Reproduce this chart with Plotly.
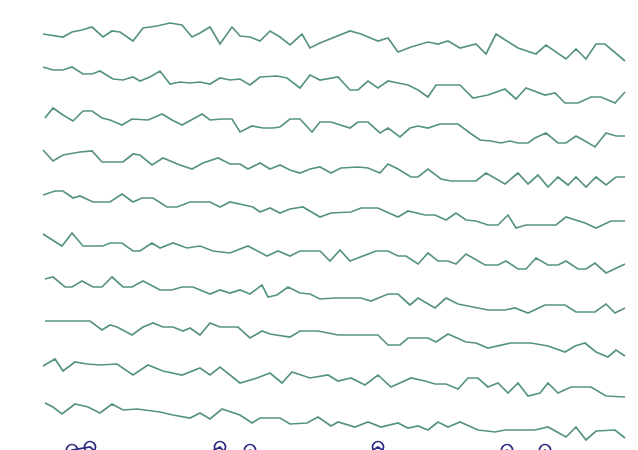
import plotly.graph_objects as go

# Ten stacked signal channels (time in samples, amplitude in arbitrary units)
t1 = [0, 2.0, 2.9, 3.9, 4.9, 6.0, 6.9, 7.7, 9.0, 10.0, 11.4, 12.7, 13.9, 14.9, 15.7, 16.7, 17.7, 18.9, 19.7, 20.7, 21.7, 22.7, 23.7, 24.7, 25.9, 26.7, 27.7, 29.2, 30.7, 31.8, 33.5, 34.5, 35.5, 36.8, 38.5, 39.5, 40.5, 41.7, 43.3, 44.3, 45.3, 47.5, 49.3, 50.3, 52.3, 53.3, 54.3, 55.3, 56.2, 58.2]
v1 = [0, -3, 2, 4, 7, -3, 3, 2, -7, 6, 8, 11, 9, -3, 1, 7, -10, 7, -2, -3, -7, 3, -3, -11, 0, -14, -9, -3, 3, 0, -7, -4, -18, -13, -8, -10, -7, -14, -10, -20, 0, -14, -20, -11, -25, -15, -25, -10, -10, -27]

t2 = [0, 1.0, 2.0, 2.9, 4.0, 4.9, 5.7, 7.0, 8.0, 9.0, 9.7, 10.7, 11.7, 12.7, 13.7, 14.7, 15.7, 16.7, 17.7, 18.7, 19.7, 20.7, 21.7, 23.4, 24.4, 25.7, 26.7, 27.7, 29.5, 30.7, 31.5, 32.5, 33.5, 34.5, 35.5, 36.5, 37.5, 38.5, 39.3, 41.7, 43.0, 44.5, 46.2, 47.3, 48.3, 50.2, 51.2, 52.2, 53.5, 54.8, 55.8, 57.2, 58.2]
v2 = [8, 5, 5, 8, 1, 1, 4, -4, -5, -2, -6, -2, 4, -9, -7, -8, -7, -9, -3, -5, -4, -10, -2, -1, -3, -13, 0, -5, -2, -15, -15, -6, -13, -6, -8, -10, -15, -22, -10, -10, -23, -20, -14, -24, -13, -20, -18, -28, -28, -22, -22, -28, -17]

t3 = [0.2, 1.0, 2.0, 3.0, 4.0, 4.9, 5.9, 6.7, 7.9, 8.9, 10.5, 11.9, 12.9, 13.9, 15.0, 15.9, 16.7, 17.9, 18.9, 19.7, 20.9, 22.0, 23.0, 23.7, 24.7, 25.7, 26.9, 27.7, 28.8, 30.7, 31.5, 32.5, 33.7, 34.5, 35.7, 36.7, 37.5, 38.5, 39.7, 41.5, 42.7, 43.7, 44.8, 45.8, 46.7, 47.5, 48.5, 49.2, 50.3, 51.5, 52.3, 53.3, 54.2, 55.2, 56.3, 57.3, 58.2]
v3 = [-2, 8, 1, -5, 5, 5, -2, -4, -9, -3, -4, 2, -4, -9, -3, 2, -4, -3, -3, -16, -10, -12, -12, -11, -3, -3, -16, -6, -6, -12, -6, -6, -17, -12, -21, -12, -10, -12, -8, -8, -17, -24, -25, -27, -25, -27, -27, -22, -17, -27, -27, -20, -25, -31, -17, -20, -20]

t4 = [0, 1.0, 2.0, 3.7, 4.9, 5.9, 8.0, 9.0, 9.7, 10.9, 12.0, 13.7, 14.9, 16.0, 17.5, 18.7, 19.7, 20.5, 21.7, 22.7, 23.7, 24.7, 25.7, 26.7, 27.7, 28.8, 29.8, 31.5, 32.5, 33.7, 34.5, 35.5, 36.8, 37.5, 38.5, 39.8, 40.8, 43.3, 44.3, 46.2, 47.5, 48.5, 49.5, 50.5, 51.5, 52.5, 53.3, 54.3, 55.3, 56.3, 57.3, 58.2]
v4 = [7, -4, 2, 5, 6, -5, -5, 3, 2, -8, -1, -8, -12, -6, -1, -7, -7, -12, -6, -12, -8, -13, -16, -12, -10, -16, -11, -10, -11, -16, -7, -12, -20, -20, -12, -22, -24, -24, -16, -27, -16, -27, -18, -30, -20, -28, -20, -30, -20, -28, -20, -20]

t5 = [0, 1.2, 2.0, 3.0, 3.7, 5.0, 6.7, 7.9, 9.0, 9.9, 11.0, 12.4, 13.4, 14.7, 16.7, 17.7, 18.7, 19.7, 21.0, 21.7, 22.7, 23.7, 24.7, 26.0, 27.7, 28.8, 30.8, 31.8, 33.5, 35.5, 36.5, 38.2, 39.2, 40.3, 41.3, 42.3, 43.3, 44.5, 45.5, 46.5, 47.3, 48.3, 51.3, 52.3, 54.2, 55.3, 56.8, 58.2]
v5 = [3, 7, 7, 0, 2, -4, -4, 4, -4, 0, 0, -9, -9, -4, -4, -9, -4, -6, -9, -14, -10, -15, -11, -9, -19, -15, -14, -10, -10, -19, -13, -17, -17, -22, -15, -22, -23, -27, -27, -17, -30, -27, -27, -19, -25, -30, -23, -23]

t6 = [0, 1.9, 2.9, 4.0, 6.0, 6.7, 7.9, 9.0, 9.7, 10.9, 11.7, 13.0, 14.4, 15.7, 17.0, 18.7, 20.5, 22.4, 23.5, 24.7, 25.7, 27.7, 28.7, 29.7, 30.7, 31.5, 33.3, 34.5, 35.5, 36.3, 37.5, 38.5, 39.5, 40.5, 41.3, 42.3, 44.2, 45.5, 46.3, 47.5, 48.3, 49.3, 50.5, 51.5, 52.3, 53.5, 54.3, 55.2, 56.3, 58.2]
v6 = [5, -7, 6, -7, -7, -4, -4, -12, -12, -4, -9, -4, -9, -7, -12, -14, -7, -17, -12, -17, -12, -12, -22, -11, -22, -19, -12, -12, -17, -17, -25, -14, -22, -22, -25, -15, -26, -26, -22, -30, -30, -19, -26, -26, -22, -30, -30, -24, -34, -25]

t7 = [0.2, 1.0, 2.2, 2.9, 3.9, 5.0, 5.9, 6.9, 8.0, 8.9, 10.0, 11.7, 12.9, 13.9, 15.0, 16.7, 17.7, 18.7, 19.7, 20.7, 21.9, 22.5, 23.4, 24.5, 25.7, 26.7, 27.7, 29.2, 31.8, 32.8, 34.5, 35.5, 36.7, 37.5, 39.2, 40.3, 41.5, 43.2, 44.5, 46.2, 47.2, 48.5, 50.2, 52.2, 53.3, 55.2, 56.3, 57.2, 58.2]
v7 = [1, 3, -7, -7, -1, -7, -7, 3, -7, -7, -1, -10, -10, -7, -7, -14, -10, -13, -10, -14, -5, -17, -15, -7, -13, -14, -19, -18, -18, -21, -14, -14, -25, -18, -28, -18, -24, -27, -30, -30, -28, -33, -25, -25, -32, -32, -24, -33, -28]

t8 = [0.2, 4.7, 5.9, 6.7, 7.4, 8.9, 10.0, 11.0, 12.0, 13.0, 14.0, 14.7, 15.7, 16.7, 17.7, 19.5, 20.7, 21.9, 22.7, 24.7, 25.7, 27.5, 29.5, 33.5, 34.5, 35.7, 36.5, 38.5, 39.3, 40.5, 42.3, 43.3, 44.5, 45.7, 46.8, 48.8, 50.5, 52.2, 53.2, 54.2, 55.3, 56.5, 57.3, 58.2]
v8 = [0, 0, -9, -4, -6, -14, -6, -2, -6, -6, -10, -7, -14, -2, -6, -6, -17, -10, -13, -16, -10, -10, -14, -14, -24, -24, -17, -17, -21, -13, -21, -22, -27, -24, -22, -22, -25, -31, -25, -22, -31, -36, -29, -35]

t9 = [0, 1.2, 2.0, 3.2, 4.4, 5.7, 7.4, 9.0, 10.5, 12.0, 13.9, 15.7, 16.7, 17.7, 19.7, 21.4, 22.7, 23.9, 24.9, 26.7, 28.5, 29.5, 30.8, 32.2, 33.5, 34.8, 36.8, 38.2, 39.2, 40.3, 41.5, 42.5, 43.5, 44.5, 45.5, 46.5, 47.5, 48.5, 49.7, 50.5, 51.5, 52.8, 54.8, 56.3, 58.2]
v9 = [-4, 3, -9, 0, -2, -3, -2, -13, -3, -9, -13, -6, -13, -5, -21, -16, -11, -21, -10, -16, -13, -19, -16, -23, -13, -25, -16, -19, -22, -22, -27, -16, -16, -25, -21, -31, -21, -34, -31, -21, -31, -25, -25, -34, -35]

t10 = [0.2, 1.0, 1.9, 3.2, 4.5, 5.7, 6.9, 8.0, 9.4, 11.7, 13.0, 14.7, 15.7, 16.7, 17.9, 19.7, 20.9, 21.7, 23.7, 24.7, 26.4, 27.5, 28.8, 29.5, 31.2, 32.5, 33.8, 35.5, 36.5, 37.5, 38.5, 39.5, 40.5, 41.7, 43.5, 45.2, 46.2, 49.2, 50.5, 52.3, 53.3, 54.3, 55.3, 57.2, 58.2]
v10 = [0, -4, -11, -1, -4, -10, -1, -7, -6, -9, -12, -15, -10, -16, -6, -12, -20, -15, -15, -21, -20, -14, -23, -19, -24, -19, -24, -20, -25, -23, -27, -19, -24, -19, -27, -29, -27, -27, -24, -34, -24, -37, -28, -27, -35]

# Eleventh channel, almost entirely below the visible window
t11 = [0, 2.9, 4.7, 6.5, 10, 14, 17.7, 19, 20.7, 22, 26, 30, 33.5, 36, 40, 44, 46.4, 48, 50.2, 52, 56, 58.2]
v11 = [-22, -6, -3, -18, -25, -22, -3, -18, -6, -18, -28, -24, -3, -20, -28, -24, -6, -18, -6, -20, -28, -30]

channels = [(t1, v1), (t2, v2), (t3, v3), (t4, v4), (t5, v5),
            (t6, v6), (t7, v7), (t8, v8), (t9, v9), (t10, v10)]

spacing = 41
teal = "#55937f"
navy = "#2b2a80"

fig = go.Figure()
for k, (t, v) in enumerate(channels):
    fig.add_trace(go.Scatter(
        x=t, y=[val - k * spacing for val in v], mode="lines",
        line=dict(color=teal, width=1.7), hoverinfo="skip"))

fig.add_trace(go.Scatter(
    x=t11, y=[val - 10 * spacing for val in v11], mode="lines+markers",
    line=dict(color=navy, width=1.7),
    marker=dict(symbol="circle-open", size=11, color=navy, line=dict(width=1.7)),
    hoverinfo="skip"))

fig.update_layout(
    width=638, height=450,
    margin=dict(l=0, r=0, t=0, b=0),
    paper_bgcolor="white", plot_bgcolor="white",
    showlegend=False,
    xaxis=dict(range=[-4.3, 59.5], visible=False, fixedrange=True),
    yaxis=dict(range=[34 - 450, 34], visible=False, fixedrange=True),
)

fig.write_html("out.html")
